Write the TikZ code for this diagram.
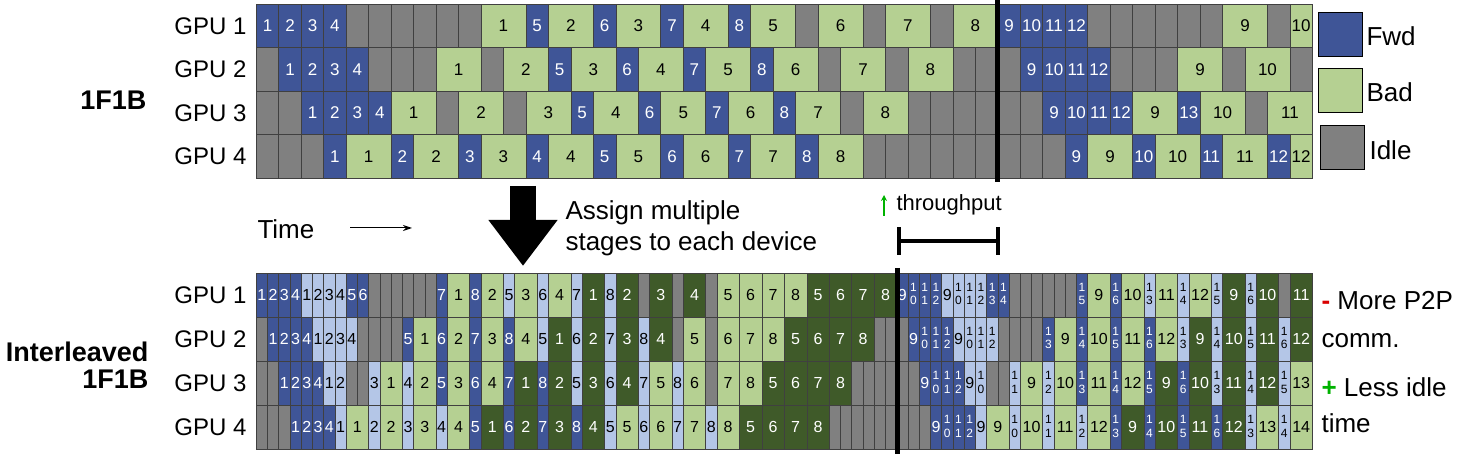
\documentclass[tikz,border=0pt]{standalone}
\usepackage{fontspec}
\setmainfont{Liberation Sans}
\usetikzlibrary{arrows.meta}

\definecolor{fwdblue}{HTML}{3F5597}
\definecolor{fwdlight}{HTML}{B4C6E7}
\definecolor{bwdgreen}{HTML}{B5D092}
\definecolor{bwddark}{HTML}{3F5A29}
\definecolor{idlegray}{HTML}{808080}

% widths of each kind of cell, in units
\newcommand{\kwf}{1}
\newcommand{\kwl}{1}
\newcommand{\kwi}{1}
\newcommand{\kwh}{1}
\newcommand{\kwg}{2}
\newcommand{\kwd}{2}
\newcommand{\stk}[2]{\begin{tabular}{@{}c@{}}\fontsize{12}{11}\selectfont #1\\[-3pt]\fontsize{12}{11}\selectfont #2\end{tabular}}

\tikzset{
  cell/.style={draw=black!75, line width=0.6pt, inner sep=0pt, anchor=north west},
  c f/.style={fill=fwdblue, text=white},
  c l/.style={fill=fwdlight, text=black},
  c g/.style={fill=bwdgreen, text=black},
  c h/.style={fill=bwdgreen, text=black},
  c d/.style={fill=bwddark, text=white},
  c i/.style={fill=idlegray},
  gpu/.style={anchor=east, font=\fontsize{24}{24}\selectfont},
  key/.style={draw=black, line width=0.8pt, minimum width=44pt, minimum height=44pt},
  big/.style={font=\fontsize{27}{27}\selectfont\bfseries},
}

% #1 name, #2 top, #3 unit, #4 height, #5 font size, #6 list
\newcommand{\schedrow}[6]{%
  \xdef\curx{256}%
  \foreach \k/\n [count=\c] in {#6}{%
    \edef\w{\csname kw\k\endcsname}%
    \pgfmathsetmacro\cw{\w*#3}%
    \def\lab{\n}%
    \ifdim #3pt<15pt \ifnum\w<2 \ifnum 0\n>9 \def\lab{\expandafter\stk\n}\fi\fi\fi
    \node[cell, c \k, minimum width=\cw pt, minimum height=#4pt,
          font=\fontsize{#5}{#5}\selectfont] (#1-\c) at (\curx,#2) {\lab};
    \pgfmathsetmacro\nx{\curx+\cw}%
    \xdef\curx{\nx}%
  }%
}

\begin{document}
\begin{tikzpicture}[x=1pt, y=-1pt]
  \useasboundingbox[fill=white] (0,0) rectangle (1460,454);

  % 1F1B
  \schedrow{ta}{4}{22.47}{43.5}{17}{f/1,f/2,f/3,f/4,i/,i/,i/,i/,i/,i/,g/1,f/5,g/2,f/6,g/3,f/7,g/4,f/8,g/5,i/,g/6,i/,g/7,i/,g/8,f/9,f/10,f/11,f/12,i/,i/,i/,i/,i/,i/,g/9,i/,h/10}
  \schedrow{tb}{47.5}{22.47}{43.5}{17}{i/,f/1,f/2,f/3,f/4,i/,i/,i/,g/1,i/,g/2,f/5,g/3,f/6,g/4,f/7,g/5,f/8,g/6,i/,g/7,i/,g/8,i/,i/,i/,f/9,f/10,f/11,f/12,i/,i/,i/,g/9,i/,g/10,i/}
  \schedrow{tc}{91}{22.47}{43.5}{17}{i/,i/,f/1,f/2,f/3,f/4,g/1,i/,g/2,i/,g/3,f/5,g/4,f/6,g/5,f/7,g/6,f/8,g/7,i/,g/8,i/,i/,i/,i/,i/,i/,f/9,f/10,f/11,f/12,g/9,f/13,g/10,i/,g/11}
  \schedrow{td}{134.5}{22.47}{43.5}{17}{i/,i/,i/,f/1,g/1,f/2,g/2,f/3,g/3,f/4,g/4,f/5,g/5,f/6,g/6,f/7,g/7,f/8,g/8,i/,i/,i/,i/,i/,i/,i/,i/,i/,f/9,g/9,f/10,g/10,f/11,g/11,f/12,h/12}

  % interleaved 1F1B
  \schedrow{ba}{273}{11.235}{44}{16}{f/1,f/2,f/3,f/4,l/1,l/2,l/3,l/4,f/5,f/6,i/,i/,i/,i/,i/,i/,f/7,g/1,f/8,g/2,l/5,g/3,l/6,g/4,l/7,d/1,l/8,d/2,i/,d/3,i/,d/4,i/,g/5,g/6,g/7,g/8,d/5,d/6,d/7,d/8,f/9,f/10,f/11,f/12,l/9,l/10,l/11,l/12,f/13,f/14,i/,i/,i/,i/,i/,i/,f/15,g/9,f/16,g/10,l/13,g/11,l/14,g/12,l/15,d/9,l/16,d/10,i/,d/11}
  \schedrow{bb}{317}{11.235}{44}{16}{i/,f/1,f/2,f/3,f/4,l/1,l/2,l/3,l/4,i/,i/,i/,i/,f/5,g/1,f/6,g/2,f/7,g/3,f/8,g/4,l/5,d/1,l/6,d/2,l/7,d/3,l/8,d/4,i/,g/5,i/,g/6,g/7,g/8,d/5,d/6,d/7,d/8,i/,i/,i/,f/9,f/10,f/11,f/12,l/9,l/10,l/11,l/12,i/,i/,i/,i/,f/13,g/9,f/14,g/10,f/15,g/11,f/16,g/12,l/13,d/9,l/14,d/10,l/15,d/11,l/16,d/12}
  \schedrow{bc}{361}{11.235}{44}{16}{i/,i/,f/1,f/2,f/3,f/4,l/1,l/2,i/,i/,l/3,g/1,l/4,g/2,f/5,g/3,f/6,g/4,f/7,d/1,f/8,d/2,l/5,d/3,l/6,d/4,l/7,g/5,l/8,g/6,i/,g/7,g/8,d/5,d/6,d/7,d/8,i/,i/,i/,i/,i/,i/,f/9,f/10,f/11,f/12,l/9,l/10,i/,i/,l/11,g/9,l/12,g/10,f/13,g/11,f/14,g/12,f/15,d/9,f/16,d/10,l/13,d/11,l/14,d/12,l/15,g/13}
  \schedrow{bd}{405}{11.235}{44}{16}{i/,i/,i/,f/1,f/2,f/3,f/4,l/1,g/1,l/2,g/2,l/3,g/3,l/4,g/4,f/5,d/1,f/6,d/2,f/7,d/3,f/8,d/4,l/5,g/5,l/6,g/6,l/7,g/7,l/8,g/8,d/5,d/6,d/7,d/8,i/,i/,i/,i/,i/,i/,i/,i/,i/,f/9,f/10,f/11,f/12,l/9,g/9,l/10,g/10,l/11,g/11,l/12,g/12,f/13,d/9,f/14,d/10,f/15,d/11,f/16,d/12,l/13,g/13,l/14,g/14}

  % bars
  \coordinate (bar1a) at (997,0);
  \coordinate (bar1b) at (997,182);
  \coordinate (bar2a) at (897,268);
  \coordinate (bar2b) at (897,454);
  \draw[line width=5pt] (bar1a) -- (bar1b);
  \draw[line width=5pt] (bar2a) -- (bar2b);

  % row labels
  \foreach \y [count=\i] in {26,69.5,113,156}
    \node[gpu] (tl\i) at (250,\y) {GPU \i};
  \foreach \y [count=\i] in {295,339,383,427}
    \node[gpu] (bl\i) at (250,\y) {GPU \i};
  \node[big, anchor=east] (onef) at (150,100) {1F1B};
  \node[big, anchor=east, align=right] (inter) at (152,365) {Interleaved\\1F1B};

  % legend
  \node[key, fill=fwdblue] (kf) at (1340,34) {};
  \node[key, fill=bwdgreen] (kb) at (1340,90) {};
  \node[key, fill=idlegray] (ki) at (1342,147) {};
  \node[anchor=west, font=\fontsize{26}{26}\selectfont] (kft) at (1363,36) {Fwd};
  \node[anchor=west, font=\fontsize{26}{26}\selectfont] (kbt) at (1363,92) {Bad};
  \node[anchor=west, font=\fontsize{26}{26}\selectfont] (kit) at (1366,150) {Idle};

  % middle
  \node[anchor=west, font=\fontsize{26}{26}\selectfont] (time) at (254,229) {Time};
  \coordinate (ta0) at (350,228);
  \coordinate (ta1) at (412,228);
  \draw[line width=1pt, -{Stealth[length=9pt,width=6pt]}] (ta0) -- (ta1);
  \coordinate (aa0) at (523,186);
  \coordinate (aa1) at (523,266);
  \draw[line width=26pt, -{Triangle[length=46pt,width=66pt]}] (aa0) -- (aa1);
  \node[anchor=west, align=left, font=\fontsize{26}{31}\selectfont] (assign) at (562,228) {Assign multiple\\stages to each device};
  \coordinate (up0) at (884,216);
  \coordinate (up1) at (884,195);
  \draw[green!70!black, line width=1.5pt, -{Stealth[length=6pt,width=6pt]}] (up0) -- (up1);
  \node[anchor=west, font=\fontsize{22}{22}\selectfont] (thr) at (893,205) {throughput};
  \coordinate (br0) at (897,241);
  \coordinate (br1) at (1000,241);
  \draw[line width=4pt, {Bar[width=28pt]}-{Bar[width=28pt]}] (br0) -- (br1);

  % right notes
  \node[anchor=west, align=left, font=\fontsize{26}{38}\selectfont] (p2p) at (1318,320) {\textcolor{red!85!black}{\textbf{-}} More P2P\\comm.};
  \node[anchor=west, align=left, font=\fontsize{26}{36}\selectfont] (idle) at (1318,405) {\textcolor{green!70!black}{\textbf{+}} Less idle\\time};
\end{tikzpicture}
\end{document}
